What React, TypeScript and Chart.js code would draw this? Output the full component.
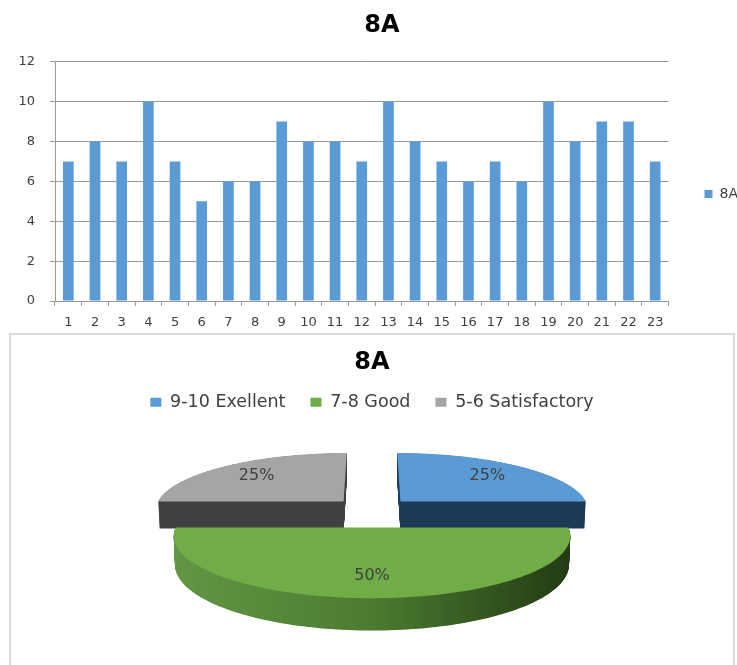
import React, { useEffect, useRef } from "react";
import { Chart, registerables } from "chart.js";

Chart.register(...registerables);

// ---------- data ----------
const studentNumbers = ["1","2","3","4","5","6","7","8","9","10","11","12","13","14","15","16","17","18","19","20","21","22","23"];
const scores8A = [7, 8, 7, 10, 7, 5, 6, 6, 9, 8, 8, 7, 10, 8, 7, 6, 7, 6, 10, 8, 9, 9, 7];
const yTicks = [0, 2, 4, 6, 8, 10, 12];
const seriesName = "8A";
const chartTitle = "8A";

const gradeLabels = ["9-10 Exellent", "7-8 Good", "5-6 Satisfactory"];
const gradeShares = [25, 50, 25];

// ---------- styles ----------
const FONT = "DejaVu Sans";
const BAR_BLUE = "#5b9bd5";
const SLICE_TOP = ["#5b9bd5", "#70ad47", "#a5a5a5"];
const SLICE_SIDE = [["#1f3a56", "#1f3a56"], ["#629645", "#4b7b30", "#233b14"], ["#404040", "#404040"]];
const SLICE_EXPLODE = [41, 56, 41];
const GRID = "#9a9a9a";
const TEXT = "#404040";

const pie3d = {
  id: "pie3d",
  beforeDatasetsDraw(chart: any, _a: any, opts: any) {
    const ctx = chart.ctx;
    const meta = chart.getDatasetMeta(0);
    const values: number[] = chart.data.datasets[0].data;
    const total = values.reduce((a, b) => a + b, 0);
    const S = opts.sin, C = Math.sqrt(1 - S * S), D = opts.dist;
    const proj = (cx: number, cy: number, u: number, v: number, h: number) => {
      const sy = v * S - h * C;
      const z = D - v * C - h * S;
      const k = D / z;
      return [cx + u * k, cy + sy * k];
    };
    const slices = meta.data.map((arc: any, i: number) => {
      const p = arc.getProps(["x", "y", "startAngle", "endAngle", "outerRadius"], true);
      return { i, ...p, off: arc.options.offset || 0, top: arc.options.backgroundColor, mid: (p.startAngle + p.endAngle) / 2 };
    });
    const order = [...slices].sort((a: any, b: any) => Math.sin(a.mid) - Math.sin(b.mid));
    for (const s of order) {
      const ou = Math.cos(s.mid) * s.off, ov = Math.sin(s.mid) * s.off;
      const pts: number[][] = [[ou, ov]];
      const n = Math.max(2, Math.ceil((s.endAngle - s.startAngle) / (Math.PI / 120)));
      for (let j = 0; j <= n; j++) {
        const a = s.startAngle + ((s.endAngle - s.startAngle) * j) / n;
        pts.push([ou + s.outerRadius * Math.cos(a), ov + s.outerRadius * Math.sin(a)]);
      }
      const path = (h: number) => {
        ctx.beginPath();
        pts.forEach(([u, v], j) => {
          const [X, Y] = proj(s.x, s.y, u, v, h);
          if (j) ctx.lineTo(X, Y); else ctx.moveTo(X, Y);
        });
        ctx.closePath();
      };
      const xs = pts.map(([u, v]) => proj(s.x, s.y, u, v, 0)[0]);
      const minX = Math.min(...xs), maxX = Math.max(...xs);
      const stops: string[] = opts.sides[s.i];
      const grad = ctx.createLinearGradient(minX, 0, maxX, 0);
      stops.forEach((c, j) => grad.addColorStop(j / (stops.length - 1), c));
      ctx.save();
      ctx.fillStyle = grad;
      for (let h = -opts.depth; h < 0; h += 0.5) { path(h); ctx.fill(); }
      ctx.fillStyle = s.top;
      path(0);
      ctx.fill();
      ctx.restore();
    }
    ctx.save();
    ctx.font = `16px "${FONT}"`;
    ctx.fillStyle = TEXT;
    ctx.textAlign = "center";
    ctx.textBaseline = "middle";
    for (const s of slices) {
      const r = s.outerRadius * opts.labelRadius;
      const u = Math.cos(s.mid) * (s.off + r), v = Math.sin(s.mid) * (s.off + r);
      const [X, Y] = proj(s.x, s.y, u, v, 0);
      ctx.fillText(Math.round((values[s.i] / total) * 100) + "%", X, Y);
    }
    ctx.restore();
    return false;
  },
};

export default function App() {
  const barRef = useRef<HTMLCanvasElement>(null);
  const pieRef = useRef<HTMLCanvasElement>(null);

  useEffect(() => {
    const bar = new Chart(barRef.current!, {
      type: "bar",
      data: {
        labels: studentNumbers,
        datasets: [{ label: seriesName, data: scores8A, backgroundColor: BAR_BLUE, barPercentage: 0.4, categoryPercentage: 1 }],
      },
      options: {
        responsive: false,
        animation: false,
        events: [],
        layout: { padding: { left: 8, right: 0, top: 0, bottom: 0 } },
        plugins: {
          title: { display: true, text: chartTitle, color: "#000", font: { family: FONT, size: 24, weight: "bold" }, padding: { top: 3, bottom: 22 } },
          legend: {
            position: "right",
            title: { display: true, text: "", font: { size: 10 }, padding: { top: 35, bottom: 0 } },
            labels: { boxWidth: 8, boxHeight: 8, padding: 36, color: TEXT, font: { family: FONT, size: 14 } },
          },
          tooltip: { enabled: false },
        },
        scales: {
          x: {
            grid: { drawOnChartArea: false, color: GRID, tickLength: 5 },
            border: { color: GRID },
            ticks: { autoSkip: false, maxRotation: 0, padding: 9, color: TEXT, font: { family: FONT, size: 13 } },
            afterFit: (s: any) => { s.height = 32; },
          },
          y: {
            min: 0,
            max: 12,
            afterBuildTicks: (s: any) => { s.ticks = yTicks.map((v) => ({ value: v })); },
            grid: { color: GRID, tickLength: 5 },
            border: { color: GRID },
            ticks: { padding: 15, color: TEXT, font: { family: FONT, size: 13 } },
            afterFit: (s: any) => { s.width = 39; },
          },
        },
      } as any,
    });

    const pie = new Chart(pieRef.current!, {
      type: "pie",
      data: {
        labels: gradeLabels,
        datasets: [{ data: gradeShares, backgroundColor: SLICE_TOP, offset: SLICE_EXPLODE, borderWidth: 0 }],
      },
      options: {
        responsive: false,
        animation: false,
        events: [],
        radius: 189,
        layout: { padding: { bottom: 66 } },
        plugins: {
          title: { display: true, text: chartTitle, color: "#000", font: { family: FONT, size: 24, weight: "bold" }, padding: { top: 13.6, bottom: -8.9 } },
          legend: { position: "top", labels: { boxWidth: 11, boxHeight: 9, padding: 25, color: TEXT, font: { family: FONT, size: 17.5 } } },
          tooltip: { enabled: false },
          pie3d: { sin: 0.3, dist: 1400, depth: 29, labelRadius: 0.72, sides: SLICE_SIDE },
        },
      } as any,
      plugins: [pie3d],
    });
    return () => { bar.destroy(); pie.destroy(); };
  }, []);

  return (
    <div style={{ position: "fixed", left: 8, top: 8, width: 729, height: 657, overflow: "hidden", background: "#fff" }}>
      <canvas ref={barRef} width={740} height={325} style={{ position: "absolute", left: 0, top: 0, display: "block" }} />
      <div style={{ position: "absolute", left: 1, top: 325, width: 726, height: 345, border: "2px solid #d9d9d9", boxSizing: "border-box" }}>
        <canvas ref={pieRef} width={722} height={330} style={{ position: "absolute", left: 0, top: 0, display: "block" }} />
      </div>
    </div>
  );
}
